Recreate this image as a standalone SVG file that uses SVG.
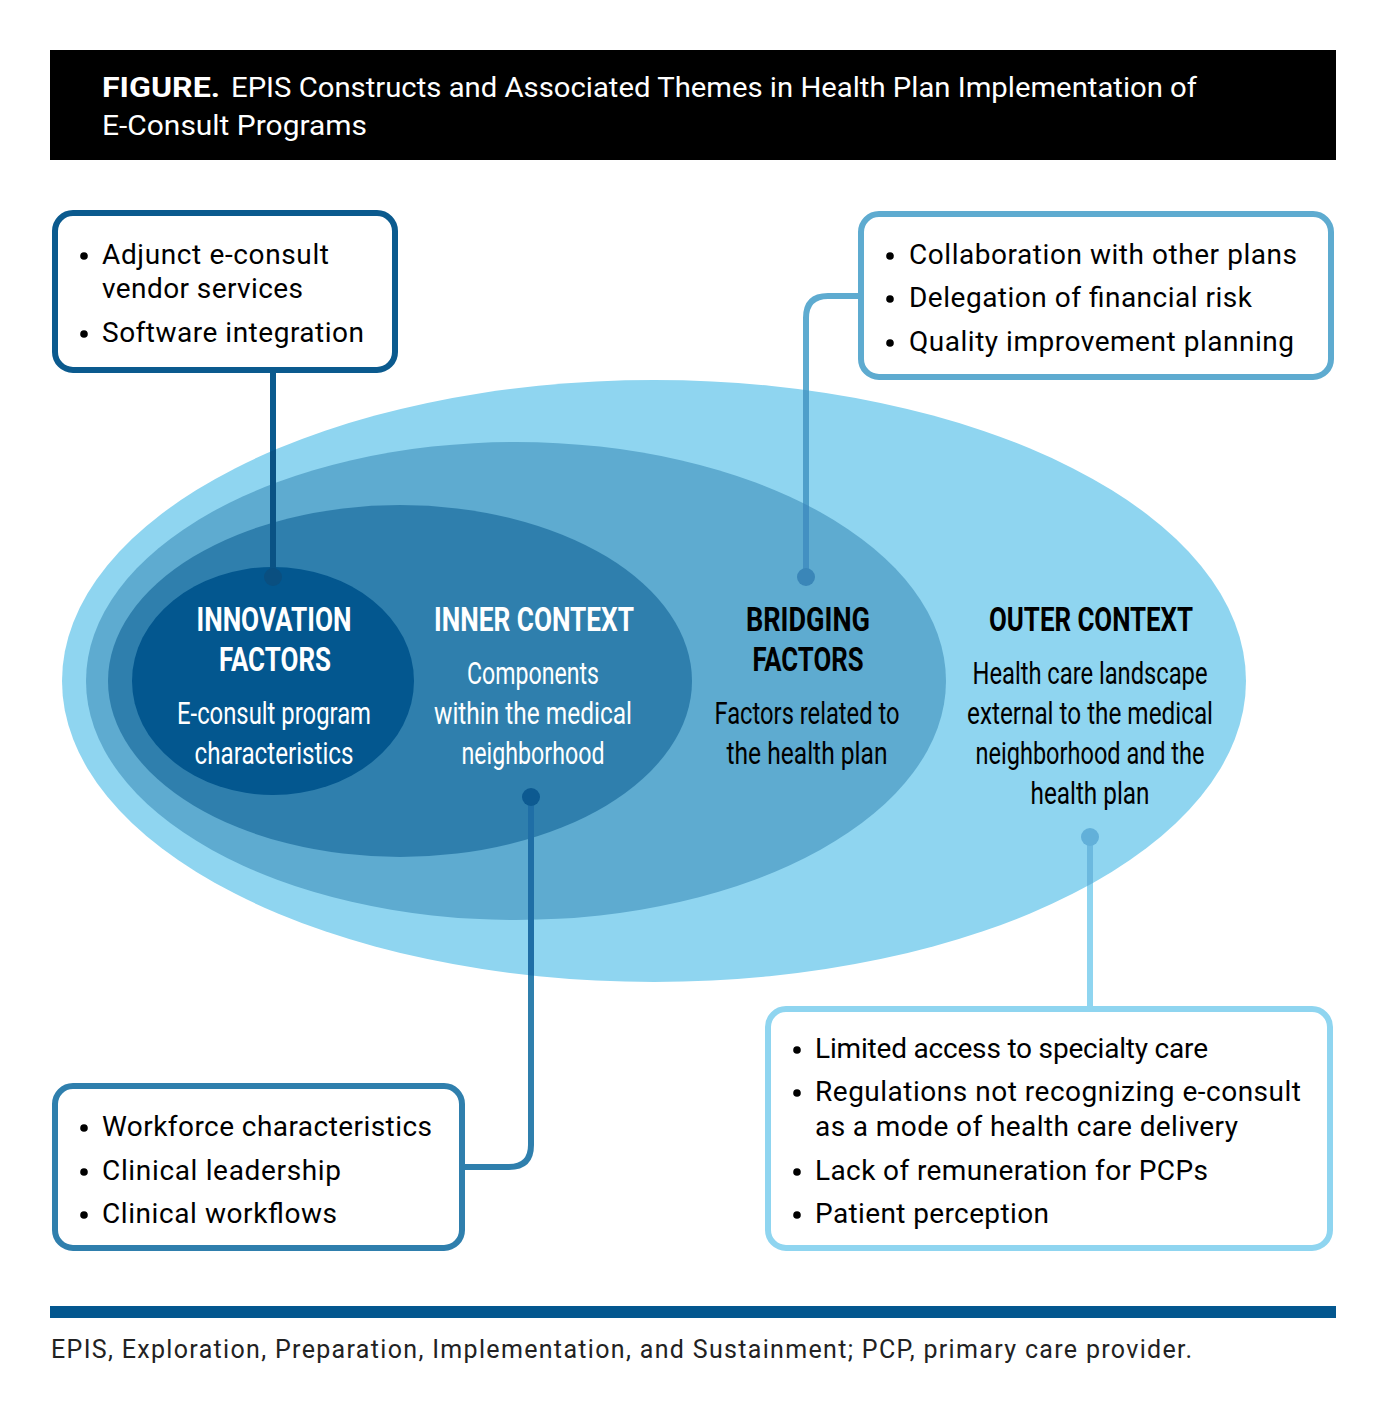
<svg xmlns="http://www.w3.org/2000/svg" width="1386" height="1425" viewBox="0 0 1386 1425">
<style>
.hd{font-family:Roboto,"Liberation Sans",sans-serif;font-size:27px;fill:#fff}
.bx{font-family:Roboto,"Liberation Sans",sans-serif;font-size:28px;fill:#000}
.ft{font-family:Roboto,"Liberation Sans",sans-serif;font-size:25px;fill:#222}
.t1{font-family:Roboto,"Liberation Sans",sans-serif;font-size:34px;font-weight:bold;text-anchor:middle}
.t2{font-family:Roboto,"Liberation Sans",sans-serif;font-size:32px;text-anchor:middle}
.w{fill:#fff}
.k{fill:#000}
.box{fill:#fff;stroke-width:6}
.con{fill:none;stroke-width:6}
</style>
<defs>
<clipPath id="clipOuter"><ellipse cx="654" cy="681" rx="592" ry="301"/></clipPath>
<clipPath id="clipBridge"><ellipse cx="516" cy="681" rx="430" ry="239"/></clipPath>
</defs>
<rect width="1386" height="1425" fill="#fff"/>
<g id="header">
<rect x="50" y="50" width="1286" height="110" fill="#000"/>
<text class="hd" x="102" y="97"><tspan font-weight="bold" textLength="118" lengthAdjust="spacingAndGlyphs">FIGURE.</tspan><tspan x="231" textLength="966" lengthAdjust="spacingAndGlyphs">EPIS Constructs and Associated Themes in Health Plan Implementation of</tspan></text>
<text class="hd" x="102" y="135" textLength="265" lengthAdjust="spacingAndGlyphs">E-Consult Programs</text>
</g>
<g id="ellipses">
<ellipse id="outer" cx="654" cy="681" rx="592" ry="301" fill="#8fd5f0"/>
<ellipse id="bridging" cx="516" cy="681" rx="430" ry="239" fill="#5eabd0"/>
<ellipse id="inner" cx="400" cy="681" rx="292" ry="176" fill="#2f7fad"/>
<ellipse id="innovation" cx="273" cy="681" rx="141" ry="114" fill="#03578f"/>
</g>
<g id="connectors">
<path class="con" stroke="#0b5a8e" d="M273,372 V577"/>
<path class="con" stroke="#0a5284" d="M273,372 V577" clip-path="url(#clipOuter)"/>
<path class="con" stroke="#5eabd0" d="M858,296 H828 Q806,296 806,318 V577"/>
<path class="con" stroke="#4e9fca" d="M858,296 H828 Q806,296 806,318 V577" clip-path="url(#clipOuter)"/>
<path class="con" stroke="#4390c2" d="M858,296 H828 Q806,296 806,318 V577" clip-path="url(#clipBridge)"/>
<path class="con" stroke="#2f7fad" d="M531,797 V1145 Q531,1167 509,1167 H465"/>
<path class="con" stroke="#1f6ea6" d="M531,797 V1145 Q531,1167 509,1167 H465" clip-path="url(#clipOuter)"/>
<path class="con" stroke="#8fd5f0" d="M1090,837 V1006"/>
<path class="con" stroke="#6cb9df" d="M1090,837 V1006" clip-path="url(#clipOuter)"/>
<circle cx="273" cy="577" r="9" fill="#0a4f80"/>
<circle cx="806" cy="577" r="9" fill="#3a86b8"/>
<circle cx="531" cy="797" r="9" fill="#0d5a91"/>
<circle cx="1090" cy="837" r="9" fill="#62b0d9"/>
</g>
<g id="innovation-label">
<text class="t1 w" x="274" y="631" textLength="155" lengthAdjust="spacingAndGlyphs">INNOVATION</text>
<text class="t1 w" x="275" y="671" textLength="112" lengthAdjust="spacingAndGlyphs">FACTORS</text>
<text class="t2 w" x="274" y="724" textLength="194" lengthAdjust="spacingAndGlyphs">E-consult program</text>
<text class="t2 w" x="274" y="764" textLength="159" lengthAdjust="spacingAndGlyphs">characteristics</text>
</g>
<g id="inner-label">
<text class="t1 w" x="534" y="631" textLength="200" lengthAdjust="spacingAndGlyphs">INNER CONTEXT</text>
<text class="t2 w" x="533" y="684" textLength="132" lengthAdjust="spacingAndGlyphs">Components</text>
<text class="t2 w" x="533" y="724" textLength="198" lengthAdjust="spacingAndGlyphs">within the medical</text>
<text class="t2 w" x="533" y="764" textLength="143" lengthAdjust="spacingAndGlyphs">neighborhood</text>
</g>
<g id="bridging-label">
<text class="t1 k" x="808" y="631" textLength="124" lengthAdjust="spacingAndGlyphs">BRIDGING</text>
<text class="t1 k" x="808" y="671" textLength="111" lengthAdjust="spacingAndGlyphs">FACTORS</text>
<text class="t2 k" x="807" y="724" textLength="185" lengthAdjust="spacingAndGlyphs">Factors related to</text>
<text class="t2 k" x="807" y="764" textLength="161" lengthAdjust="spacingAndGlyphs">the health plan</text>
</g>
<g id="outer-label">
<text class="t1 k" x="1091" y="631" textLength="204" lengthAdjust="spacingAndGlyphs">OUTER CONTEXT</text>
<text class="t2 k" x="1090" y="684" textLength="235" lengthAdjust="spacingAndGlyphs">Health care landscape</text>
<text class="t2 k" x="1090" y="724" textLength="246" lengthAdjust="spacingAndGlyphs">external to the medical</text>
<text class="t2 k" x="1090" y="764" textLength="229" lengthAdjust="spacingAndGlyphs">neighborhood and the</text>
<text class="t2 k" x="1090" y="804" textLength="119" lengthAdjust="spacingAndGlyphs">health plan</text>
</g>
<g id="box-innovation">
<rect class="box" stroke="#0b5a8e" x="55" y="213" width="340" height="157" rx="18"/>
<circle cx="84" cy="256" r="3.8"/>
<text class="bx" x="102" y="264" textLength="227" lengthAdjust="spacing">Adjunct e-consult</text>
<text class="bx" x="102" y="298" textLength="201" lengthAdjust="spacing">vendor services</text>
<circle cx="84" cy="334" r="3.8"/>
<text class="bx" x="102" y="342" textLength="262" lengthAdjust="spacing">Software integration</text>
</g>
<g id="box-bridging">
<rect class="box" stroke="#5eabd0" x="861" y="214" width="470" height="163" rx="18"/>
<circle cx="890" cy="256" r="3.8"/>
<text class="bx" x="909" y="264" textLength="388" lengthAdjust="spacing">Collaboration with other plans</text>
<circle cx="890" cy="299" r="3.8"/>
<text class="bx" x="909" y="307" textLength="343" lengthAdjust="spacing">Delegation of financial risk</text>
<circle cx="890" cy="343" r="3.8"/>
<text class="bx" x="909" y="351" textLength="385" lengthAdjust="spacing">Quality improvement planning</text>
</g>
<g id="box-inner">
<rect class="box" stroke="#2f7fad" x="55" y="1086" width="407" height="162" rx="18"/>
<circle cx="84" cy="1128" r="3.8"/>
<text class="bx" x="102" y="1136" textLength="330" lengthAdjust="spacing">Workforce characteristics</text>
<circle cx="84" cy="1172" r="3.8"/>
<text class="bx" x="102" y="1180" textLength="239" lengthAdjust="spacing">Clinical leadership</text>
<circle cx="84" cy="1215" r="3.8"/>
<text class="bx" x="102" y="1223" textLength="235" lengthAdjust="spacing">Clinical workflows</text>
</g>
<g id="box-outer">
<rect class="box" stroke="#8fd5f0" x="768" y="1009" width="562" height="239" rx="18"/>
<circle cx="797" cy="1050" r="3.8"/>
<text class="bx" x="815" y="1058" textLength="393" lengthAdjust="spacing">Limited access to specialty care</text>
<circle cx="797" cy="1093" r="3.8"/>
<text class="bx" x="815" y="1101" textLength="486" lengthAdjust="spacing">Regulations not recognizing e-consult</text>
<text class="bx" x="815" y="1136" textLength="423" lengthAdjust="spacing">as a mode of health care delivery</text>
<circle cx="797" cy="1172" r="3.8"/>
<text class="bx" x="815" y="1180" textLength="393" lengthAdjust="spacing">Lack of remuneration for PCPs</text>
<circle cx="797" cy="1215" r="3.8"/>
<text class="bx" x="815" y="1223" textLength="234" lengthAdjust="spacing">Patient perception</text>
</g>
<g id="footer">
<rect x="50" y="1306" width="1286" height="12" fill="#03578f"/>
<text class="ft" x="51" y="1358" textLength="1141" lengthAdjust="spacing">EPIS, Exploration, Preparation, Implementation, and Sustainment; PCP, primary care provider.</text>
</g>
</svg>
